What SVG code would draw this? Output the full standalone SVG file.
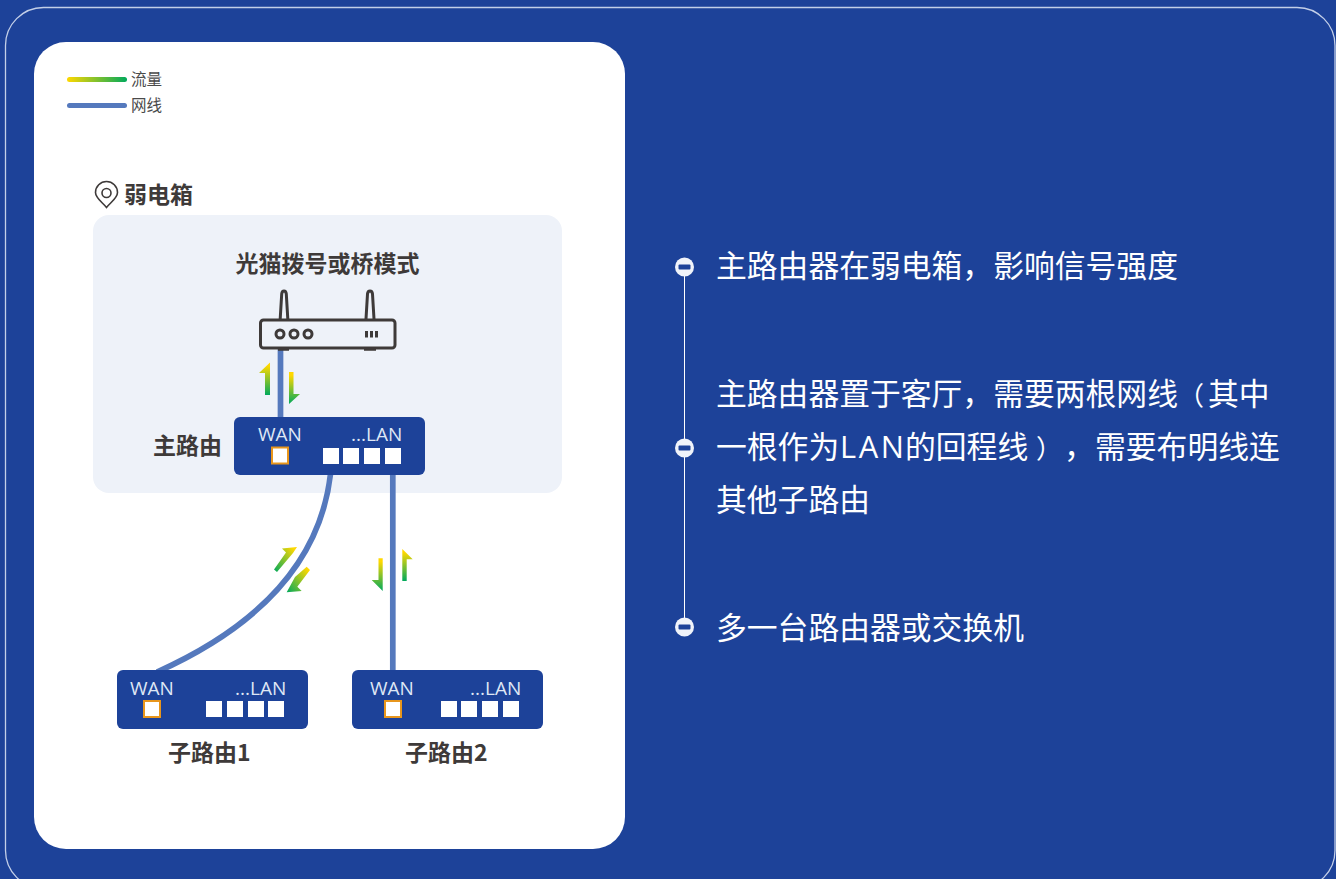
<svg xmlns="http://www.w3.org/2000/svg" width="1336" height="879" viewBox="0 0 1336 879">
<style>
text{font-family:"Noto Sans CJK SC","Noto Sans",sans-serif}
.lat{font-family:"Open Sans","Noto Sans",sans-serif;font-size:19px;fill:#dfe7f5}
.lbl{font-size:23px;font-weight:700;fill:#3e3a39}
.leg{font-size:15.5px;fill:#4a4a4a}
.big{font-size:30.8px;fill:#fff;font-family:"Noto Sans CJK SC",sans-serif}
.big2{font-size:30.8px;fill:#fff;font-family:"Open Sans",sans-serif}
.par{font-size:26px}
.box{fill:#1d4299}
.wan{fill:#fff;stroke:#e8961c;stroke-width:2}
.p{fill:#fff}
.wire{fill:none;stroke:#5579bd;stroke-width:5.7}
.dot{fill:#f0f3fa}
.bar{fill:#1d4299}
.dev{fill:none;stroke:#3e3a39;stroke-width:3}
</style>
<defs>
<linearGradient id="h" x1="0" x2="1" y1="0" y2="0"><stop offset="0" stop-color="#ffd800"/><stop offset="1" stop-color="#00a95c"/></linearGradient>
<linearGradient id="up" x1="0" y1="0" x2="0" y2="1"><stop offset="0.1" stop-color="#ffd800"/><stop offset="1" stop-color="#00a95c"/></linearGradient>
<linearGradient id="ur" x1="1" y1="0" x2="0" y2="1"><stop offset="0.1" stop-color="#ffd800"/><stop offset="1" stop-color="#00a95c"/></linearGradient>
</defs>
<rect width="1336" height="879" fill="#1d4299"/>
<rect x="5.500" y="7.500" width="1329.500" height="881" rx="38" fill="none" stroke="#c3cfe8" stroke-width="1.300"/>
<rect x="34" y="42" width="591" height="807" rx="32" fill="#fff"/>
<g id="legend">
<rect x="67" y="77" width="60" height="5" rx="2.500" fill="url(#h)"/>
<text class="leg" x="131" y="85">流量</text>
<rect x="67" y="103" width="60" height="5" rx="2.500" fill="#5579bd"/>
<text class="leg" x="131" y="111">网线</text>
</g>
<g id="location">
<path d="M106.500 207.500C102 202 95.500 198 95.500 192.500a11 11 0 0 1 22 0C117.500 198 111 202 106.500 207.500Z" fill="none" stroke="#3e3a39" stroke-width="1.600"/>
<circle cx="106.500" cy="193" r="4.500" fill="none" stroke="#3e3a39" stroke-width="1.600"/>
<text class="lbl" x="124" y="203">弱电箱</text>
</g>
<rect id="box-zone" x="93" y="215" width="469" height="278" rx="16" fill="#eef2f9"/>
<g id="connectors">
<path class="wire" d="M280.500 349V418"/>
<path class="wire" d="M330.500 474C320 565 255 628 157 672"/>
<path class="wire" d="M392.800 474V671"/>
</g>
<g id="flows">
<path d="M270 362.500V395H265V373H259Z" fill="url(#up)"/>
<path d="M289 372H293.500V394H300L289 404Z" fill="url(#up)"/>
<path d="M297 547L282 548.500L286 552.500L274 569.500L277 572L293 553Z" fill="url(#ur)"/>
<path d="M306.700 566.700L310 570L297.300 586.700L301.700 591L286.700 592.300L295 577Z" fill="url(#ur)"/>
<path d="M378.500 558.300H382.700V591L371.700 580H378.500Z" fill="url(#up)"/>
<path d="M402.300 549L412.700 559.300H406.700V581H402.300Z" fill="url(#up)"/>
</g>
<g id="modem">
<path class="dev" d="M280.200 319L281.700 294Q282 291 284 291T286.300 294L287.800 319" stroke-width="2"/>
<path class="dev" d="M366 319L367.500 294Q367.800 291 370 291T372.500 294L374 319" stroke-width="2"/>
<rect class="dev" x="260.500" y="320" width="134.500" height="28" rx="3"/>
<path class="dev" d="M278 349.300H289M364 349.300H376" stroke-width="1.500"/>
<circle class="dev" cx="280" cy="334" r="4" stroke-width="2.200"/>
<circle class="dev" cx="294" cy="334" r="4" stroke-width="2.200"/>
<circle class="dev" cx="308" cy="334" r="4" stroke-width="2.200"/>
<path class="dev" d="M366.500 331V337.500M371.500 331V337.500M376.500 331V337.500" stroke-width="2"/>
<text class="lbl" x="327.500" y="272" text-anchor="middle">光猫拨号或桥模式</text>
</g>
<g id="main-router">
<rect class="box" x="234" y="417" width="191" height="58" rx="6"/>
<text class="lat" x="258" y="441">WAN</text>
<text class="lat" x="351" y="441">...LAN</text>
<rect class="wan" x="272" y="447.500" width="16" height="16"/>
<rect class="p" x="323" y="448" width="16" height="16"/><rect class="p" x="343" y="448" width="16" height="16"/><rect class="p" x="364" y="448" width="16" height="16"/><rect class="p" x="385" y="448" width="16" height="16"/>
<text class="lbl" x="153" y="454">主路由</text>
</g>
<g id="sub-router-1">
<rect class="box" x="117" y="670" width="191" height="59" rx="6"/>
<text class="lat" x="130" y="695">WAN</text>
<text class="lat" x="235" y="695">...LAN</text>
<rect class="wan" x="144" y="701" width="16" height="16"/>
<rect class="p" x="206" y="701" width="16" height="16"/><rect class="p" x="227" y="701" width="16" height="16"/><rect class="p" x="248" y="701" width="16" height="16"/><rect class="p" x="268" y="701" width="16" height="16"/>
<text class="lbl" x="168" y="761">子路由1</text>
</g>
<g id="sub-router-2">
<rect class="box" x="352" y="670" width="191" height="59" rx="6"/>
<text class="lat" x="370" y="695">WAN</text>
<text class="lat" x="470" y="695">...LAN</text>
<rect class="wan" x="385" y="701" width="16" height="16"/>
<rect class="p" x="441" y="701" width="16" height="16"/><rect class="p" x="461" y="701" width="16" height="16"/><rect class="p" x="482" y="701" width="16" height="16"/><rect class="p" x="503" y="701" width="16" height="16"/>
<text class="lbl" x="405" y="761">子路由2</text>
</g>
<g id="timeline">
<path d="M684.500 267V627" stroke="#fff" stroke-width="1" fill="none"/>
<circle class="dot" cx="684.500" cy="267" r="9.500"/><rect class="bar" x="678.500" y="264.500" width="12" height="5" rx="1"/>
<circle class="dot" cx="684.500" cy="448" r="9.500"/><rect class="bar" x="678.500" y="445.500" width="12" height="5" rx="1"/>
<circle class="dot" cx="684.500" cy="627" r="9.500"/><rect class="bar" x="678.500" y="624.500" width="12" height="5" rx="1"/>
</g>
<g id="notes">
<text class="big" x="716" y="277">主路由器在弱电箱，影响信号强度</text>
<text class="big" y="405"><tspan x="716">主路由器置于客厅，需要两根网线</tspan><tspan class="par" x="1178">（</tspan><tspan x="1208">其中</tspan></text>
<text class="big" y="458"><tspan x="716">一根作为</tspan><tspan class="big2" x="840" textLength="64">LAN</tspan><tspan x="905">的回程线</tspan><tspan class="par" x="1036">）</tspan><tspan x="1064">，</tspan><tspan x="1095">需要布明线连</tspan></text>
<text class="big" x="716" y="511">其他子路由</text>
<text class="big" x="716" y="639">多一台路由器或交换机</text>
</g>
</svg>
